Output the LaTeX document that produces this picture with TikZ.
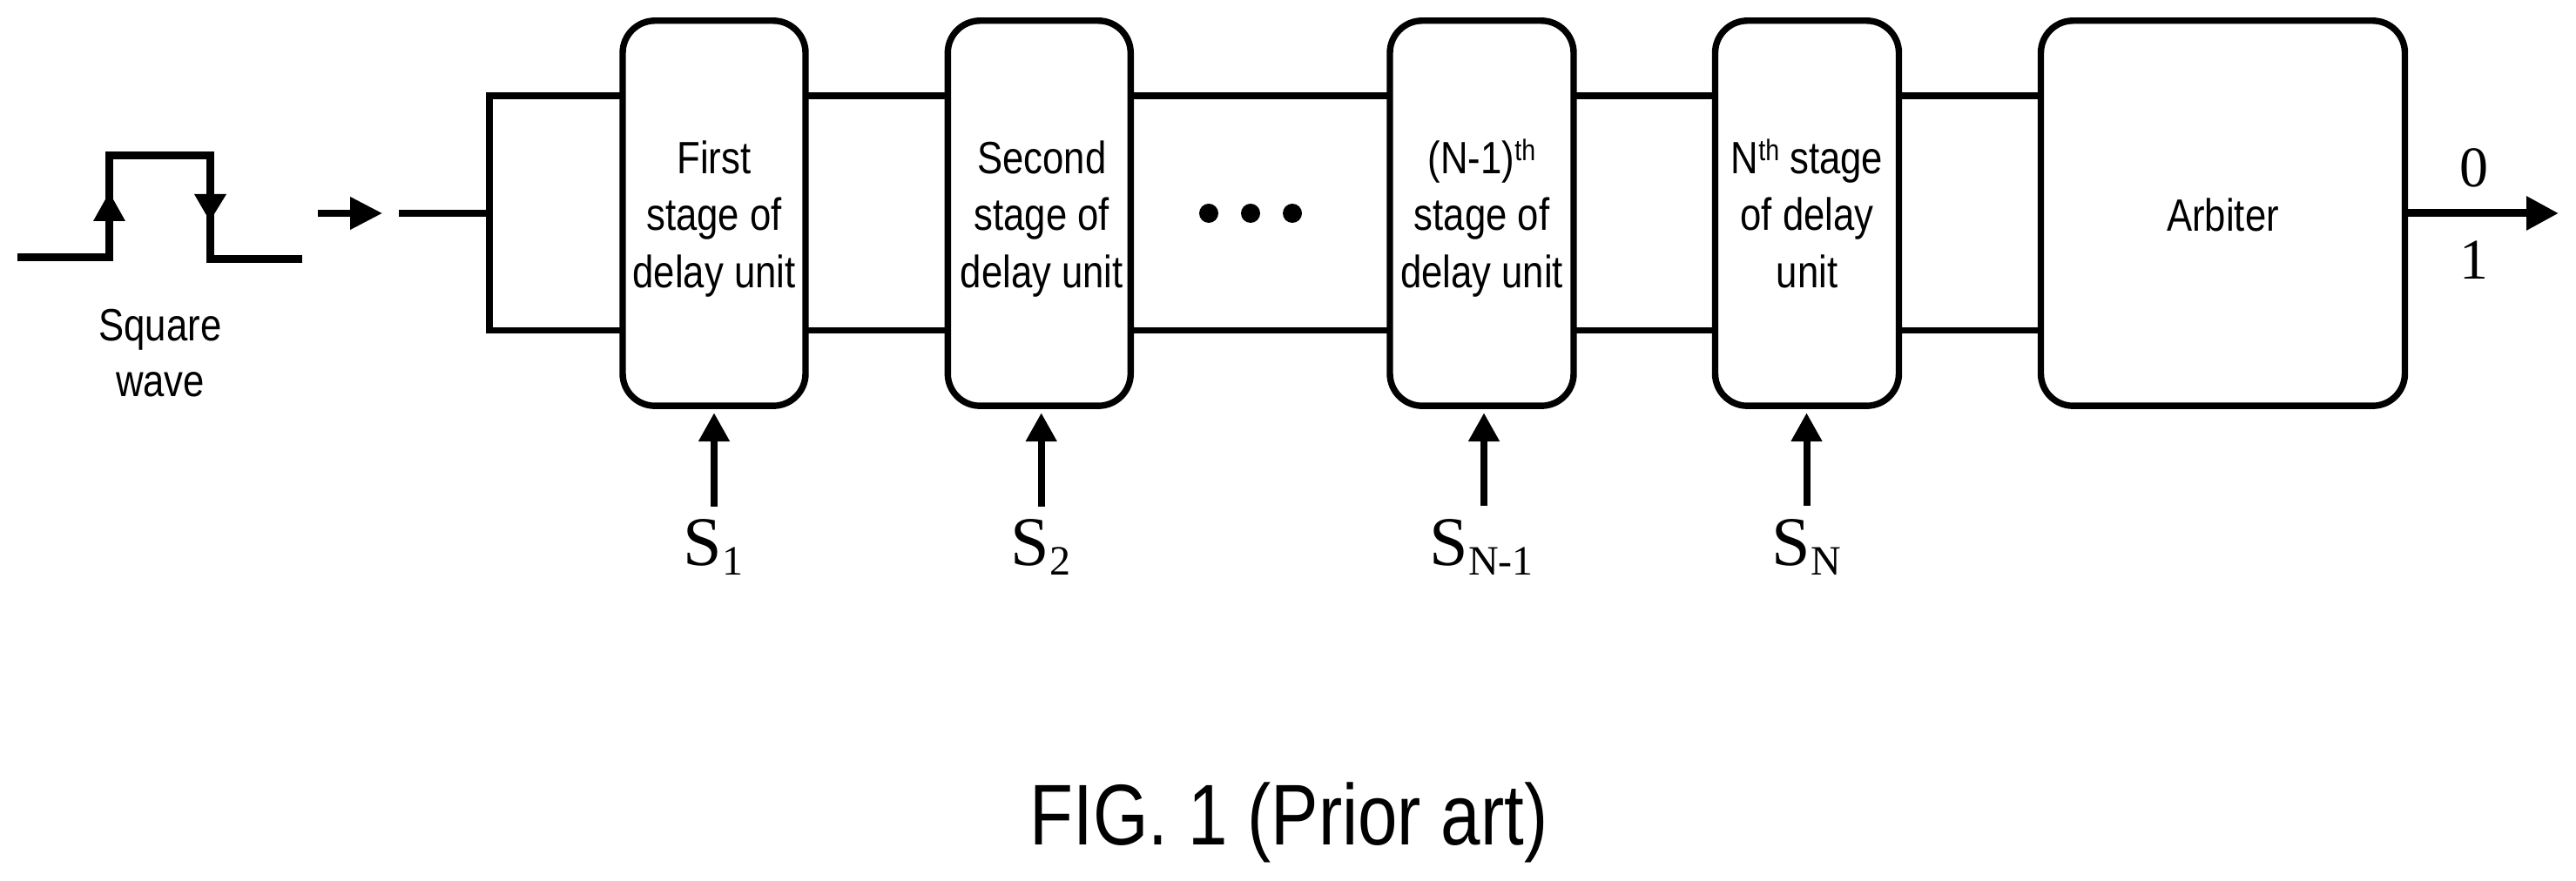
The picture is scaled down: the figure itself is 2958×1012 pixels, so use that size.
\documentclass[tikz,border=0pt]{standalone}
\usepackage{fontspec}
\setmainfont{Liberation Sans}
\newfontfamily\lblfont[FakeStretch=0.84]{Liberation Sans}
\newfontfamily\capfont[FakeStretch=0.825]{Liberation Sans}
\newfontfamily\tmsfont{Liberation Serif}
\usetikzlibrary{arrows.meta,calc}
\newcommand{\topfix}{\rule{0pt}{13.75pt}}
\newcommand{\botfix}{\rule[-3.75pt]{0pt}{3.75pt}}
\newcommand{\supth}{\raisebox{3.75pt}{\fontsize{8.5}{8.5}\selectfont th}}
\newcommand{\slabel}[1]{S\raisebox{-2.75pt}{\fontsize{12}{12}\selectfont #1}}
\newcommand{\nudge}{\hspace*{1.5pt}}
\tikzset{
  wire/.style={line width=1.85pt,line cap=butt,line join=miter},
  stagebox/.style={draw,line width=1.85pt,rounded corners=9.25pt,inner sep=0pt,outer sep=0pt,
    minimum height=110.6pt,align=center,
    font=\lblfont\fontsize{13}{16.4}\selectfont},
  sarrow/.style={line width=2pt,line cap=butt,-{Triangle[width=8.5pt,length=8.25pt]},shorten >=2pt},
  inarrow/.style={wire,-{Triangle[width=9pt,length=9.25pt]}},
  outarrow/.style={line width=2.25pt,-{Triangle[width=9.25pt,length=9.25pt]}},
  wave/.style={line width=2.25pt,line join=miter,line cap=butt},
  sublabel/.style={anchor=base west,inner sep=0pt,font=\tmsfont\fontsize{20}{20}\selectfont},
  bitlabel/.style={anchor=base,inner sep=0pt,font=\tmsfont\fontsize{16.5}{16.5}\selectfont},
  dotmark/.style={circle,fill=black,inner sep=0pt,minimum size=5.5pt},
}
\begin{document}
\begin{tikzpicture}[x=0.25pt,y=-0.25pt]
\useasboundingbox (0,0) rectangle (2958,1012);
\fill[white] (0,0) rectangle (2958,1012);
% rails
\coordinate (railt) at (0,110);
\coordinate (railb) at (0,379.5);
% stages
\node[stagebox,minimum width=52.5pt] (box1) at (820,245)
  {\topfix First\\stage of\\delay unit\botfix};
\node[stagebox,minimum width=52.5pt] (box2) at (1193.3,245)
  {\topfix\nudge Second\\\nudge stage of\\\nudge delay unit\botfix};
\node[stagebox,minimum width=52.75pt] (box3) at (1701.5,245)
  {\topfix (N-1)\supth\\stage of\\delay unit\botfix};
\node[stagebox,minimum width=52.75pt] (box4) at (2075,245)
  {\topfix N\supth{} stage\\of delay\\unit\botfix};
\node[stagebox,minimum width=104.5pt] (arb) at (2552.5,245)
  {\rule{0pt}{10.5pt}Arbiter};
% input splitter
\coordinate (split) at (562,245);
\coordinate (stub) at (458,245);
\draw[wire] (stub) -- (split);
\draw[wire] (box1.west |- railt) -- (split |- railt) -- (split |- railb) -- (box1.west |- railb);
% rails between boxes
\foreach \a/\b in {box1/box2,box2/box3,box3/box4,box4/arb}{
  \draw[wire] (\a.east |- railt) -- (\b.west |- railt);
  \draw[wire] (\a.east |- railb) -- (\b.west |- railb);
}
% input arrow
\coordinate (ina) at (365,245);
\coordinate (inb) at (439,245);
\draw[inarrow] (ina) -- (inb);
% square wave
\draw[wave] (20,296) -- (125.5,296) -- (125.5,179) -- (241,179) -- (241,298) -- (347,298);
\fill (125.5,221) -- (107,254) -- (144,254) -- cycle;
\fill (241,254) -- (223,223) -- (260,223) -- cycle;
\node[inner sep=0pt,align=center,font=\lblfont\fontsize{13}{16}\selectfont] (wavelabel) at (184,424)
  {\rule{0pt}{12pt}Square\\wave\rule[-12pt]{0pt}{12pt}};
% dots
\node[dotmark] (d1) at (1388,245) {};
\node[dotmark] (d2) at (1436,245) {};
\node[dotmark] (d3) at (1484,245) {};
% control inputs
\coordinate (s1tail) at (820,582);
\coordinate (s2tail) at (1195.7,582);
\coordinate (s3tail) at (1704,581);
\coordinate (s4tail) at (2074.5,581);
\draw[sarrow] (s1tail) -- (s1tail |- box1.south);
\draw[sarrow] (s2tail) -- (s2tail |- box2.south);
\draw[sarrow] (s3tail) -- (s3tail |- box3.south);
\draw[sarrow] (s4tail) -- (s4tail |- box4.south);
\node[sublabel] (s1) at (784,650) {\slabel{1}};
\node[sublabel] (s2) at (1160,650) {\slabel{2}};
\node[sublabel] (s3) at (1641,650) {\slabel{N-1}};
\node[sublabel] (s4) at (2034,650) {\slabel{N}};
% output
\coordinate (outtip) at (2938,245);
\draw[outarrow] (arb.east) -- (outtip);
\node[bitlabel] (zero) at (2841,215) {0};
\node[bitlabel] (one) at (2841,321) {1};
% caption
\node[anchor=base,inner sep=0pt,font=\capfont\fontsize{24.75}{24.75}\selectfont] (cap) at (1480,971) {FIG. 1 (Prior art)};
\end{tikzpicture}
\end{document}
